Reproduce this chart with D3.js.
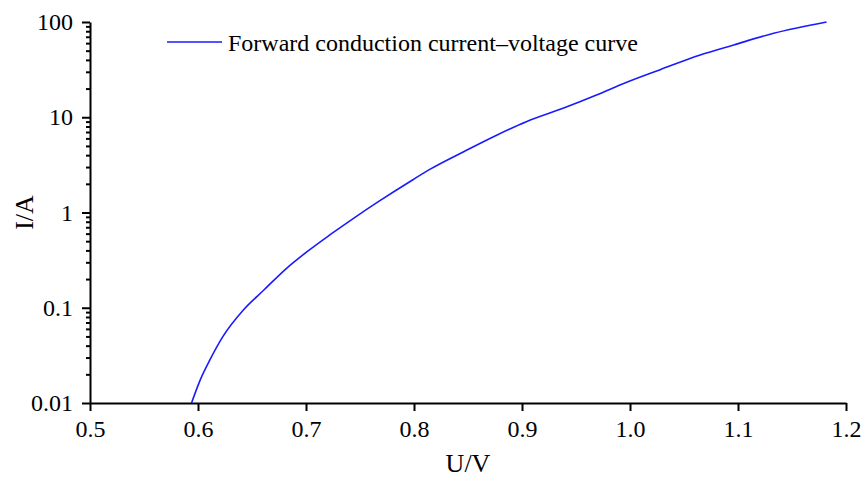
<!DOCTYPE html>
<html>
<head>
<meta charset="utf-8">
<script src="https://cdn.jsdelivr.net/npm/d3@7"></script>
</head>
<body style="margin:0">
<svg id="chart" width="865" height="479"></svg>
<script>
// ---- data ----
const voltage = [0.594, 0.602, 0.611, 0.623, 0.642, 0.661, 0.682, 0.701, 0.722, 0.744, 0.767,
                 0.799, 0.815, 0.846, 0.877, 0.904, 0.938, 0.969, 0.997, 1.028, 1.065, 1.096, 1.133, 1.182];
const current = [0.0100, 0.0174, 0.0283, 0.0497, 0.0946, 0.1535, 0.2595, 0.388, 0.581, 0.869, 1.30,
                 2.21, 2.85, 4.35, 6.52, 8.97, 12.4, 17.1, 23.3, 31.6, 45.0, 57.4, 76.1, 100];
const xTicks = [0.5, 0.6, 0.7, 0.8, 0.9, 1.0, 1.1, 1.2];
const xTickLabels = ["0.5", "0.6", "0.7", "0.8", "0.9", "1.0", "1.1", "1.2"];
const yTicks = [0.01, 0.1, 1, 10, 100];
const yTickLabels = ["0.01", "0.1", "1", "10", "100"];
const seriesName = "Forward conduction current\u2013voltage curve";
const xTitle = "U/V";
const yTitle = "I/A";

const FONT = "'Liberation Serif'";

// ---- layout ----
const svg = d3.select("#chart");
const margin = { left: 90, right: 19, top: 22, bottom: 76 };
const W = 865, H = 479;
const x = d3.scaleLinear().domain([0.5, 1.2]).range([margin.left, W - margin.right]);
const y = d3.scaleLog().domain([0.01, 100]).range([H - margin.bottom, margin.top]);

// minor ticks
const minor = [];
for (let e = -2; e < 2; e++) for (let m = 2; m <= 9; m++) minor.push(m * Math.pow(10, e));

const yMinor = svg.append("g").attr("transform", `translate(${margin.left},0)`)
  .call(d3.axisLeft(y).tickValues(minor).tickSize(4).tickFormat(""));
yMinor.select(".domain").remove();
yMinor.selectAll("line").attr("stroke", "#000").attr("stroke-width", 2);

const yAxis = svg.append("g").attr("transform", `translate(${margin.left},0)`)
  .call(d3.axisLeft(y).tickValues(yTicks).tickSize(8).tickPadding(9)
    .tickFormat((d, i) => yTickLabels[i]).tickSizeOuter(0));
yAxis.attr("font-family", null).attr("font-size", null);
yAxis.select(".domain").attr("stroke", "#000").attr("stroke-width", 2);
yAxis.selectAll("line").attr("stroke", "#000").attr("stroke-width", 2);
yAxis.selectAll("text").style("font-family", FONT).style("font-size", "24px").attr("fill", "#000");

const xAxis = svg.append("g").attr("transform", `translate(0,${H - margin.bottom})`)
  .call(d3.axisBottom(x).tickValues(xTicks).tickSize(8).tickPadding(9)
    .tickFormat((d, i) => xTickLabels[i]).tickSizeOuter(0));
xAxis.attr("font-family", null).attr("font-size", null);
xAxis.select(".domain").attr("stroke", "#000").attr("stroke-width", 2);
xAxis.selectAll("line").attr("stroke", "#000").attr("stroke-width", 2);
xAxis.selectAll("text").style("font-family", FONT).style("font-size", "24px").attr("fill", "#000");

// axis titles
svg.append("text").attr("x", (margin.left + W - margin.right) / 2).attr("y", 472)
  .attr("text-anchor", "middle").style("font-family", FONT).style("font-size", "26px").text(xTitle);
svg.append("text").attr("transform", `translate(33,${(margin.top + H - margin.bottom) / 2}) rotate(-90)`)
  .attr("text-anchor", "middle").style("font-family", FONT).style("font-size", "26px").text(yTitle);

// curve
const data = voltage.map((v, i) => ({ u: v, i: current[i] }));
svg.append("path").datum(data)
  .attr("fill", "none").attr("stroke", "#1a1aff").attr("stroke-width", 1.6)
  .attr("d", d3.line().curve(d3.curveMonotoneX).x(d => x(d.u)).y(d => y(d.i)));

// legend
svg.append("line").attr("x1", 167).attr("x2", 222).attr("y1", 42).attr("y2", 42)
  .attr("stroke", "#1a1aff").attr("stroke-width", 1.6);
svg.append("text").attr("x", 228).attr("y", 51).style("font-family", FONT).style("font-size", "24px").text(seriesName);
</script>
</body>
</html>
